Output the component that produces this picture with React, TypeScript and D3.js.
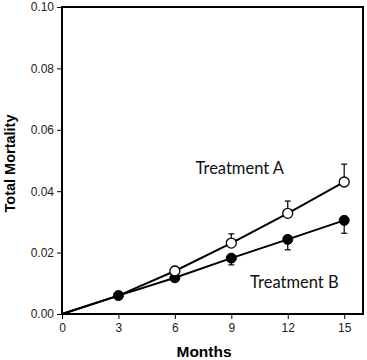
import { useEffect, useRef } from 'react';
import * as d3 from 'd3';

const months = [0, 3, 6, 9, 12, 15];
const treatmentA = [0, 0.006, 0.014, 0.0231, 0.0328, 0.043];
const treatmentAErr = [0, 0, 0.0015, 0.003, 0.004, 0.0058];
const treatmentB = [0, 0.006, 0.0118, 0.0182, 0.0243, 0.0305];
const treatmentBErr = [0, 0, 0.001, 0.0022, 0.0034, 0.0042];
const yTicks = [0, 0.02, 0.04, 0.06, 0.08, 0.1];

export default function App() {
  const svgRef = useRef<SVGSVGElement>(null);

  useEffect(() => {
    if (!svgRef.current) return;
    const width = 367;
    const height = 360;
    const margin = { top: 7, right: 4, bottom: 46, left: 62 };

    const svg = d3.select(svgRef.current);
    svg.selectAll('*').remove();

    const x = d3.scaleLinear().domain([0, 16]).range([margin.left, width - margin.right]);
    const y = d3.scaleLinear().domain([0, 0.1]).range([height - margin.bottom, margin.top]);

    // axes
    const xAxis = svg.append('g')
      .attr('transform', `translate(0,${height - margin.bottom})`)
      .call(d3.axisBottom(x).tickValues(months).tickSize(5).tickPadding(4).tickFormat(d3.format('d')));
    const yAxis = svg.append('g')
      .attr('transform', `translate(${margin.left},0)`)
      .call(d3.axisLeft(y).tickValues(yTicks).tickSize(5).tickPadding(3).tickFormat(d3.format('.2f')));
    [xAxis, yAxis].forEach(g => {
      g.select('.domain').remove();
      g.selectAll('line').attr('stroke', '#000').attr('stroke-width', 1);
      g.selectAll('text')
        .style('font-family', 'Arial, "Liberation Sans", sans-serif')
        .style('font-size', '12px')
        .attr('fill', '#222');
    });

    // frame
    svg.append('rect')
      .attr('x', margin.left).attr('y', margin.top)
      .attr('width', width - margin.left - margin.right)
      .attr('height', height - margin.top - margin.bottom)
      .attr('fill', 'none').attr('stroke', '#000').attr('stroke-width', 2);

    const pts = (vals: number[]) => months.map((m, i) => [m, vals[i]] as [number, number]);
    const line = d3.line<[number, number]>().x(d => x(d[0])).y(d => y(d[1]));

    // error bars
    const errs = (vals: number[], errsArr: number[], dir: number, cls: string) => {
      const g = svg.append('g').attr('class', cls);
      months.forEach((m, i) => {
        if (!errsArr[i]) return;
        const y0 = y(vals[i]);
        const y1 = y(vals[i] + dir * errsArr[i]);
        g.append('line').attr('x1', x(m)).attr('x2', x(m)).attr('y1', y0).attr('y2', y1)
          .attr('stroke', '#000').attr('stroke-width', 1.2);
        g.append('line').attr('x1', x(m) - 3).attr('x2', x(m) + 3).attr('y1', y1).attr('y2', y1)
          .attr('stroke', '#000').attr('stroke-width', 1.2);
      });
    };
    errs(treatmentA, treatmentAErr, 1, 'err-a');
    errs(treatmentB, treatmentBErr, -1, 'err-b');

    svg.append('path').datum(pts(treatmentA)).attr('d', line)
      .attr('fill', 'none').attr('stroke', '#000').attr('stroke-width', 2);
    svg.append('path').datum(pts(treatmentB)).attr('d', line)
      .attr('fill', 'none').attr('stroke', '#000').attr('stroke-width', 2);

    svg.append('g').selectAll('circle')
      .data(pts(treatmentB).slice(1))
      .join('circle')
      .attr('cx', d => x(d[0])).attr('cy', d => y(d[1])).attr('r', 5)
      .attr('fill', '#000').attr('stroke', '#000');
    svg.append('g').selectAll('circle')
      .data(pts(treatmentA).slice(2))
      .join('circle')
      .attr('cx', d => x(d[0])).attr('cy', d => y(d[1])).attr('r', 5)
      .attr('fill', '#fff').attr('stroke', '#000').attr('stroke-width', 1.3);

    // series labels
    const lbl = 'Lato, "Open Sans", "Liberation Sans", sans-serif';
    svg.append('text').attr('x', x(9.45)).attr('y', y(0.0455))
      .attr('text-anchor', 'middle').style('font-family', lbl).style('font-size', '16.5px')
      .attr('fill', '#111').text('Treatment A');
    svg.append('text').attr('x', x(12.35)).attr('y', y(0.0085))
      .attr('text-anchor', 'middle').style('font-family', lbl).style('font-size', '16.5px')
      .attr('fill', '#111').text('Treatment B');

    // axis titles
    svg.append('text').attr('x', x(7.55)).attr('y', height - 3)
      .attr('text-anchor', 'middle')
      .style('font-family', 'Arial, "Liberation Sans", sans-serif')
      .style('font-size', '15.5px').style('font-weight', 'bold').text('Months');
    svg.append('text')
      .attr('transform', `translate(15,${y(0.05) + 3}) rotate(-90)`)
      .attr('text-anchor', 'middle')
      .style('font-family', 'Arial, "Liberation Sans", sans-serif')
      .style('font-size', '14.5px').style('font-weight', 'bold').text('Total Mortality');
  }, []);

  return (
    <div style={{ position: 'absolute', left: 0, top: 0 }}>
      <svg ref={svgRef} width={367} height={360} style={{ display: 'block', background: '#fff' }}></svg>
    </div>
  );
}
